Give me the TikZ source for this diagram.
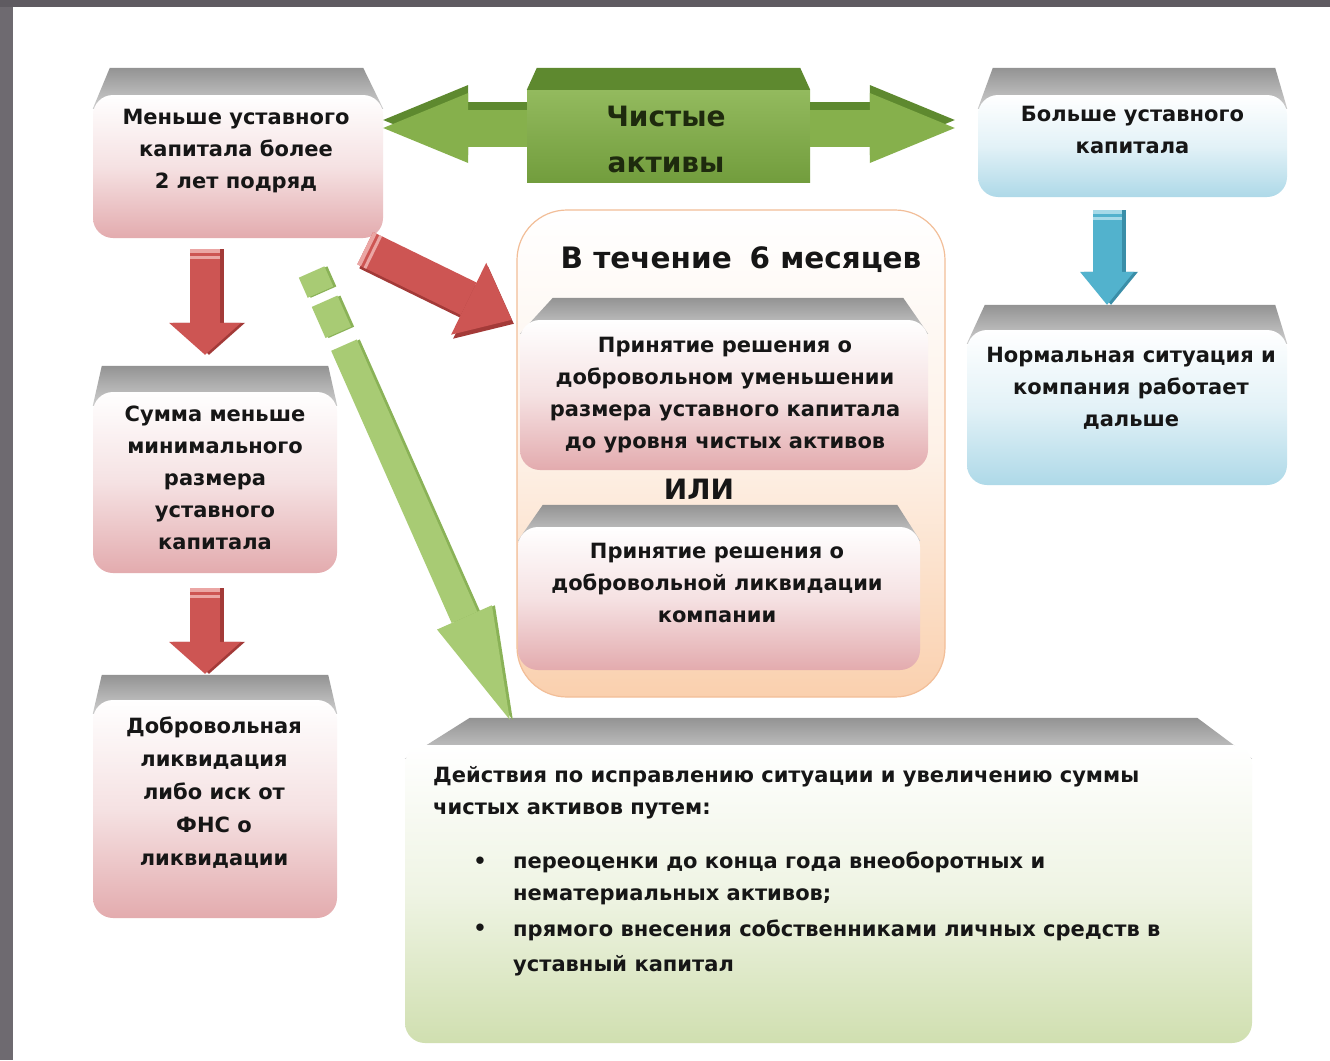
\documentclass[tikz,border=0pt]{standalone}
\usepackage{fontspec}
\setmainfont{DejaVu Sans}
\usetikzlibrary{arrows.meta,calc}

\pgfdeclarelayer{back}
\pgfdeclarelayer{lids}
\pgfsetlayers{back,lids,main}

\definecolor{frameside}{HTML}{6E6A70}
\definecolor{frametop}{HTML}{5F5B61}
\definecolor{ink}{HTML}{161616}
\definecolor{pinkbot}{HTML}{E3ABAE}
\definecolor{bluebot}{HTML}{AED9E8}
\definecolor{greenbot}{HTML}{D0DFB0}
\definecolor{peachbot}{HTML}{FAD0AE}
\definecolor{peachline}{HTML}{F2BE98}
\definecolor{lidgray}{HTML}{939393}
\definecolor{arrowred}{HTML}{CD5553}
\definecolor{arrowreddark}{HTML}{A33A38}
\definecolor{stripered}{HTML}{EBA6A4}
\definecolor{arrowblue}{HTML}{52B2CD}
\definecolor{arrowbluedark}{HTML}{3A8EA8}
\definecolor{stripeblue}{HTML}{A6DAE8}
\definecolor{assetgreen}{HTML}{86B04C}
\definecolor{assetdark}{HTML}{5E892F}
\definecolor{assettop}{HTML}{93BA5E}
\definecolor{assetbot}{HTML}{729D3D}
\definecolor{assetink}{HTML}{1E2A0E}
\definecolor{lightgreen}{HTML}{A8CB74}
\definecolor{lightgreendark}{HTML}{8AB257}

\tikzset{
  tile/.style={rounded corners=20pt, inner sep=0pt},
  pinktile/.style={tile, top color=white, bottom color=pinkbot, middle color=pinkbot!35!white},
  bluetile/.style={tile, top color=white, bottom color=bluebot, middle color=bluebot!35!white},
  greentile/.style={tile, top color=white, bottom color=greenbot, middle color=greenbot!35!white},
  peachtile/.style={rounded corners=50pt, inner sep=0pt, top color=white, bottom color=peachbot,
    middle color=peachbot!30!white, draw=peachline, line width=1.2pt},
  assetbox/.style={inner sep=0pt, top color=assettop, bottom color=assetbot},
  lid/.style={top color=lidgray, bottom color=lidgray!45!white},
  boxtext/.style={font=\fontsize{21}{32}\selectfont\bfseries, text=ink, align=center, inner sep=0pt},
  titletext/.style={font=\fontsize{28}{46}\selectfont\bfseries, text=ink, align=center, inner sep=0pt},
  listtext/.style={font=\fontsize{21}{32}\selectfont\bfseries, text=ink, align=left, inner sep=0pt},
  redarrow/.style={line width=30pt, draw=arrowred, -{Triangle[length=32pt,width=72pt,line width=0pt]}},
  reddiag/.style={line width=36pt, draw=arrowred, -{Triangle[length=48pt,width=80pt,line width=0pt]}},
  bluearrow/.style={line width=29pt, draw=arrowblue, -{Triangle[length=33pt,width=54pt,line width=0pt]}},
  assetarrow/.style={line width=37pt, draw=assetgreen, -{Triangle[length=85pt,width=70pt,line width=0pt]}},
  greenarrow/.style={line width=28pt, draw=lightgreen, dash pattern=on 22pt off 10pt on 34pt off 14pt on 2000pt,
    -{Triangle[length=112pt,width=60pt,line width=0pt]}},
  stripe/.style={line width=#1}
}

\newcommand{\lidtop}[4]{%
  \begin{pgfonlayer}{lids}
    \path[lid] ([shift={(#2,-#4)}]#1.north west) -- ([shift={(-#3,-#4)}]#1.north east)
      -- ([yshift=-14]#1.north east) -- ([yshift=-14]#1.north west) -- cycle;
  \end{pgfonlayer}}

\begin{document}
\begin{tikzpicture}[x=1pt,y=-1pt]
\useasboundingbox (0,0) rectangle (1330,1060);
\begin{pgfonlayer}{back}
  \fill[white] (0,0) rectangle (1330,1060);
  \fill[frameside] (0,0) rectangle (13,1060);
  \fill[frametop] (0,0) rectangle (1330,7);
  \node[peachtile, minimum width=428, minimum height=487] (months) at (731,453.5) {};
\end{pgfonlayer}

\node[pinktile, minimum width=290, minimum height=143] (less) at (238,166.5) {};
\node[bluetile, minimum width=309, minimum height=102] (more) at (1132.5,146) {};
\node[assetbox, minimum width=283, minimum height=92] (assets) at (668.5,136) {};
\node[pinktile, minimum width=244, minimum height=181] (summa) at (215,482.5) {};
\node[pinktile, minimum width=244, minimum height=218] (liquid) at (215,809) {};
\node[bluetile, minimum width=320, minimum height=155] (normal) at (1127,407.5) {};
\node[pinktile, minimum width=408, minimum height=150] (reduce) at (724,395) {};
\node[pinktile, minimum width=402, minimum height=143] (closing) at (719,598.5) {};
\node[greentile, minimum width=847, minimum height=298] (actions) at (828.5,894) {};

\lidtop{less}{17}{20}{27}
\lidtop{more}{15}{12}{27}
\lidtop{summa}{9}{9}{26}
\lidtop{liquid}{9}{9}{25}
\lidtop{normal}{18}{12}{25}
\lidtop{reduce}{33}{25}{22}
\lidtop{closing}{25}{23}{22}
\lidtop{actions}{65}{55}{27}
\begin{pgfonlayer}{lids}
  \fill[assetdark] ([shift={(10,-22)}]assets.north west) -- ([shift={(-10,-22)}]assets.north east)
    -- (assets.north east) -- (assets.north west) -- cycle;
\end{pgfonlayer}

\node[boxtext] (lesstext) at (236,151) {Меньше уставного\\капитала более\\2 лет подряд};
\node[boxtext] (moretext) at (1132.5,129.5) {Больше уставного\\капитала};
\node[titletext, text=assetink] (assetstext) at (666,139) {Чистые\\активы};
\node[boxtext] (summatext) at (215,477.5) {Сумма меньше\\минимального\\размера\\уставного\\капитала};
\node[boxtext, font=\fontsize{21}{33}\selectfont\bfseries] (liquidtext) at (214,793) {Добровольная\\ликвидация\\либо иск от\\ФНС о\\ликвидации};
\node[boxtext] (normaltext) at (1131,388) {Нормальная ситуация и\\компания работает\\дальше};
\node[titletext, font=\fontsize{29.5}{46}\selectfont\bfseries, anchor=base] (monthstext) at (741,268) {В течение\hspace{0.6em}6 месяцев};
\node[titletext, anchor=base] (ortext) at (699,499) {ИЛИ};
\node[boxtext] (reducetext) at (725,395) {Принятие решения о\\добровольном уменьшении\\размера уставного капитала\\до уровня чистых активов};
\node[boxtext] (closingtext) at (717,583) {Принятие решения о\\добровольной ликвидации\\компании};
\node[listtext, anchor=north west] (actionshead) at (433,766) {Действия по исправлению ситуации и увеличению суммы\\чистых активов путем:};
\node[listtext, anchor=base] (dot1) at (480,868) {\textbullet};
\node[listtext, anchor=north west] (item1) at (513,852) {переоценки до конца года внеоборотных и\\нематериальных активов;};
\node[listtext, anchor=base] (dot2) at (480,935) {\textbullet};
\node[listtext, font=\fontsize{21}{35}\selectfont\bfseries, anchor=north west] (item2) at (513,920) {прямого внесения собственниками личных средств в\\уставный капитал};

\coordinate (redA) at ([shift={(-33,11)}]less.south);
\coordinate (redD) at ([shift={(-10,-37)}]summa.north);
\coordinate (redD2) at ([shift={(-10,15)}]summa.south);
\coordinate (redE) at ([shift={(-10,-26)}]liquid.north);
\coordinate (redC) at ([shift={(-18,10)}]less.south east);
\coordinate (redCend) at ([xshift=-8]reduce.north west);
\coordinate (blueB) at ([shift={(-25.5,13)}]more.south);
\coordinate (blueN) at ([shift={(-20,-25)}]normal.north);
\coordinate (greenA) at ([shift={(73.6,33.8)}]less.south);
\coordinate (greenF) at ([shift={(105,-25)}]actions.north west);
\coordinate (assetsL) at ([yshift=38.5]less.east);
\coordinate (assetsR) at ([shift={(-23,-18)}]more.west);

\draw[assetarrow, draw=assetdark, transform canvas={yshift=8pt}] ([yshift=8]assets.west) -- (assetsL);
\draw[assetarrow] ([yshift=8]assets.west) -- (assetsL);
\draw[assetarrow, draw=assetdark, transform canvas={yshift=8pt}] ([yshift=8]assets.east) -- (assetsR);
\draw[assetarrow] ([yshift=8]assets.east) -- (assetsR);

\draw[redarrow, draw=arrowreddark, transform canvas={xshift=4pt}] (redA) -- (redD);
\draw[redarrow] (redA) -- (redD);
\draw[stripe=30pt, stripered] (redA) -- ($(redA)!4pt!(redD)$);
\draw[stripe=30pt, stripered] ($(redA)!7pt!(redD)$) -- ($(redA)!10pt!(redD)$);

\draw[redarrow, draw=arrowreddark, transform canvas={xshift=4pt}] (redD2) -- (redE);
\draw[redarrow] (redD2) -- (redE);
\draw[stripe=30pt, stripered] (redD2) -- ($(redD2)!4pt!(redE)$);
\draw[stripe=30pt, stripered] ($(redD2)!7pt!(redE)$) -- ($(redD2)!10pt!(redE)$);

\draw[reddiag, draw=arrowreddark, transform canvas={xshift=2pt,yshift=-4pt}] (redC) -- (redCend);
\draw[reddiag] (redC) -- (redCend);
\draw[stripe=36pt, stripered] (redC) -- ($(redC)!4pt!(redCend)$);
\draw[stripe=36pt, stripered] ($(redC)!7pt!(redCend)$) -- ($(redC)!10pt!(redCend)$);

\draw[bluearrow, draw=arrowbluedark, transform canvas={xshift=4pt}] (blueB) -- (blueN);
\draw[bluearrow] (blueB) -- (blueN);
\draw[stripe=29pt, stripeblue] (blueB) -- ($(blueB)!4pt!(blueN)$);
\draw[stripe=29pt, stripeblue] ($(blueB)!7pt!(blueN)$) -- ($(blueB)!10pt!(blueN)$);

\draw[greenarrow, draw=lightgreendark, transform canvas={xshift=3pt}] (greenA) -- (greenF);
\draw[greenarrow] (greenA) -- (greenF);
\end{tikzpicture}
\end{document}
